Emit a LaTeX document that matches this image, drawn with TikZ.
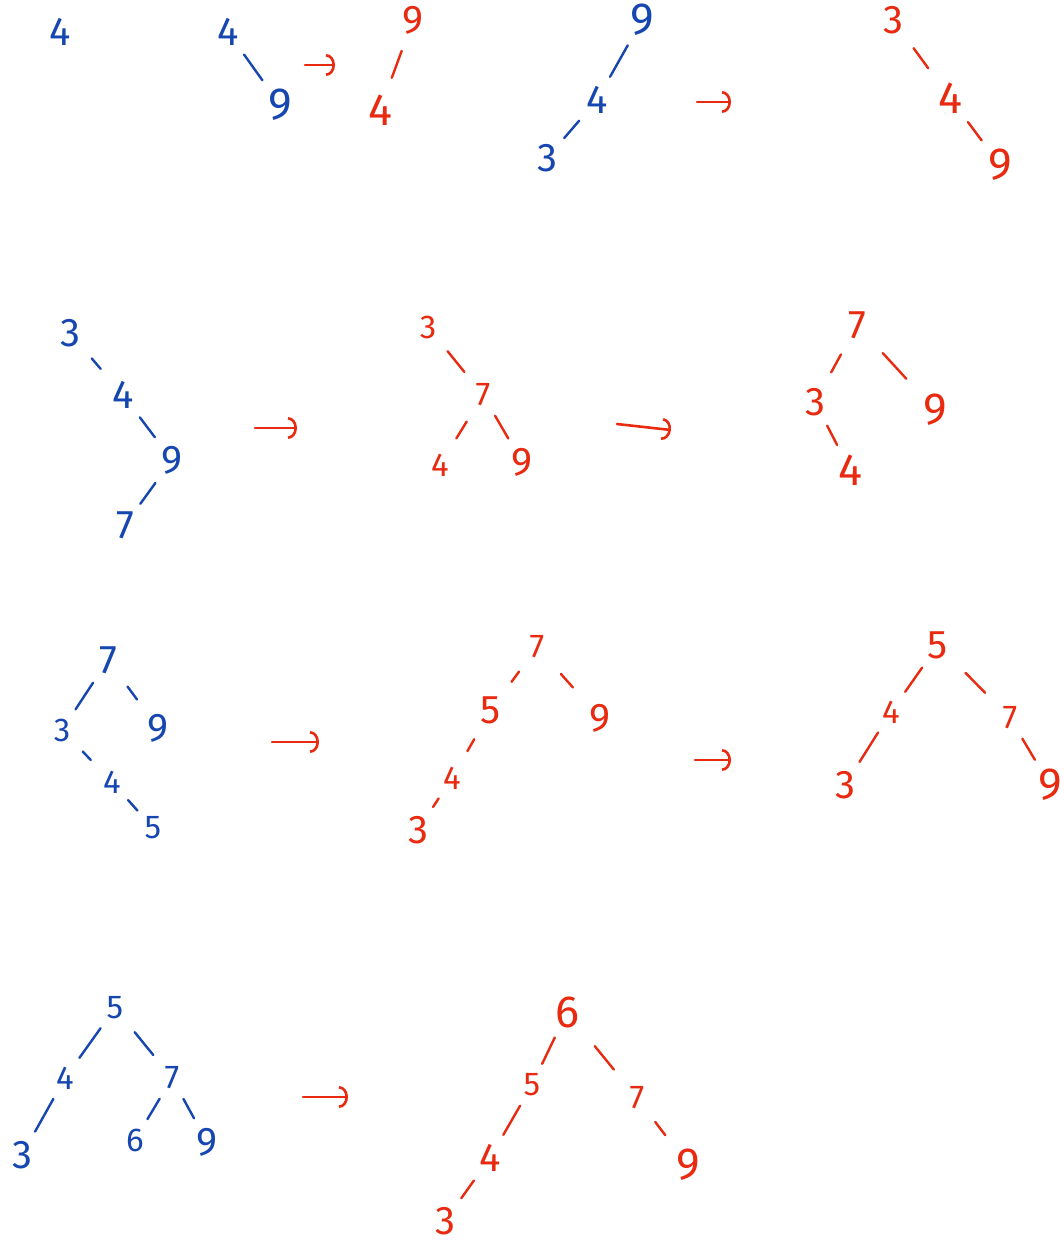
\documentclass[tikz,border=0pt]{standalone}
\usepackage{fontspec}
\setmainfont{Fira Sans}
\usetikzlibrary{arrows.meta}
\definecolor{SpBlue}{RGB}{22,70,175}
\definecolor{SpRed}{RGB}{232,42,16}
\tikzset{
  sp/key/.style={
    inner sep=0pt,
    outer sep=0pt,
    font=\fontsize{40}{44}\selectfont
  },
  sp/blue/.style={sp/key, text=SpBlue},
  sp/red/.style={sp/key, text=SpRed},
  sp/big/.style={font=\fontsize{45}{50}\selectfont},
  sp/small/.style={font=\fontsize{33}{37}\selectfont},
  sp/edge/.style={line width=2.4pt, line cap=round, shorten <=18pt, shorten >=18pt},
  sp/short/.style={shorten <=11pt, shorten >=11pt},
  sp/long/.style={shorten <=25pt, shorten >=25pt},
  sp/blueedge/.style={sp/edge, draw=SpBlue},
  sp/rededge/.style={sp/edge, draw=SpRed},
  sp/arrow/.style={-{Arc Barb[length=9pt,width=22pt,line width=2.6pt]}, line width=2.6pt, line cap=round, draw=SpRed}
}
\begin{document}
\begin{tikzpicture}[x=1pt,y=-1pt]
  \useasboundingbox (0,0) rectangle (1064,1243);
  % row 1
  \node[sp/blue] (a4) at (60,32) {4};
  \node[sp/blue] (b4) at (228,32) {4};
  \node[sp/blue,sp/big] (b9) at (280,105) {9};
  \draw[sp/blueedge,sp/short] (b4) -- (b9);
  \coordinate (ar1s) at (305,65);
  \coordinate (ar1e) at (335,65);
  \draw[sp/arrow] (ar1s) -- (ar1e);
  \node[sp/red] (c9) at (413,20) {9};
  \node[sp/red,sp/big] (c4) at (380,110) {4};
  \draw[sp/rededge] (c9) -- (c4);
  \node[sp/blue,sp/big] (d9) at (642,20) {9};
  \node[sp/blue] (d4) at (597,100) {4};
  \node[sp/blue] (d3) at (547,158) {3};
  \draw[sp/blueedge,sp/short] (d9) -- (d4);
  \draw[sp/blueedge,sp/short] (d4) -- (d3);
  \coordinate (ar2s) at (697,102);
  \coordinate (ar2e) at (731,102);
  \draw[sp/arrow] (ar2s) -- (ar2e);
  \node[sp/red] (e3) at (893,20) {3};
  \node[sp/red,sp/big] (e4) at (950,98) {4};
  \node[sp/red,sp/big] (e9) at (1000,165) {9};
  \draw[sp/rededge] (e3) -- (e4);
  \draw[sp/rededge,sp/short] (e4) -- (e9);
  % row 2
  \node[sp/blue] (f3) at (70,333) {3};
  \node[sp/blue] (f4) at (123,395) {4};
  \node[sp/blue] (f9) at (172,460) {9};
  \node[sp/blue] (f7) at (125,525) {7};
  \draw[sp/blueedge] (f3) -- (f4);
  \draw[sp/blueedge,sp/short] (f4) -- (f9);
  \draw[sp/blueedge,sp/short] (f9) -- (f7);
  \coordinate (ar3s) at (255,428);
  \coordinate (ar3e) at (297,428);
  \draw[sp/arrow] (ar3s) -- (ar3e);
  \node[sp/red,sp/small] (g3) at (428,327) {3};
  \node[sp/red,sp/small] (g7) at (483,395) {7};
  \node[sp/red,sp/small] (g4) at (440,465) {4};
  \node[sp/red] (g9) at (522,462) {9};
  \draw[sp/rededge] (g3) -- (g7);
  \draw[sp/rededge] (g7) -- (g4);
  \draw[sp/rededge,sp/short] (g7) -- (g9);
  \coordinate (ar4s) at (617,424);
  \coordinate (ar4e) at (671,430);
  \draw[sp/arrow] (ar4s) -- (ar4e);
  \node[sp/red] (h7) at (857,325) {7};
  \node[sp/red] (h3) at (815,402) {3};
  \node[sp/red,sp/big] (h9) at (935,410) {9};
  \node[sp/red,sp/big] (h4) at (850,470) {4};
  \draw[sp/rededge] (h7) -- (h3);
  \draw[sp/rededge,sp/long] (h7) -- (h9);
  \draw[sp/rededge,sp/short] (h3) -- (h4);
  % row 3
  \node[sp/blue] (i7) at (108,660) {7};
  \node[sp/blue,sp/small] (i3) at (62,730) {3};
  \node[sp/blue] (i9) at (158,728) {9};
  \node[sp/blue,sp/small] (i4) at (112,782) {4};
  \node[sp/blue,sp/small] (i5) at (153,828) {5};
  \draw[sp/blueedge,sp/short] (i7) -- (i3);
  \draw[sp/blueedge] (i7) -- (i9);
  \draw[sp/blueedge] (i3) -- (i4);
  \draw[sp/blueedge,sp/short] (i4) -- (i5);
  \coordinate (ar5s) at (272,742);
  \coordinate (ar5e) at (319,742);
  \draw[sp/arrow] (ar5s) -- (ar5e);
  \node[sp/red,sp/small] (j7) at (537,647) {7};
  \node[sp/red] (j5) at (491,710) {5};
  \node[sp/red] (j9) at (600,718) {9};
  \node[sp/red,sp/small] (j4) at (452,778) {4};
  \node[sp/red] (j3) at (418,830) {3};
  \draw[sp/rededge] (j7) -- (j5);
  \draw[sp/rededge,sp/long] (j7) -- (j9);
  \draw[sp/rededge] (j5) -- (j4);
  \draw[sp/rededge,sp/short] (j4) -- (j3);
  \coordinate (ar6s) at (695,760);
  \coordinate (ar6e) at (731,760);
  \draw[sp/arrow] (ar6s) -- (ar6e);
  \node[sp/red] (k5) at (938,645) {5};
  \node[sp/red,sp/small] (k4) at (891,712) {4};
  \node[sp/red,sp/small] (k7) at (1010,718) {7};
  \node[sp/red] (k3) at (845,785) {3};
  \node[sp/red,sp/big] (k9) at (1050,785) {9};
  \draw[sp/rededge,sp/short] (k5) -- (k4);
  \draw[sp/rededge,sp/long] (k5) -- (k7);
  \draw[sp/rededge,sp/short] (k4) -- (k3);
  \draw[sp/rededge,sp/short] (k7) -- (k9);
  % row 4
  \node[sp/blue,sp/small] (l5) at (115,1008) {5};
  \node[sp/blue,sp/small] (l4) at (65,1078) {4};
  \node[sp/blue,sp/small] (l7) at (172,1078) {7};
  \node[sp/blue] (l3) at (22,1155) {3};
  \node[sp/blue,sp/small] (l6) at (135,1140) {6};
  \node[sp/blue] (l9) at (207,1142) {9};
  \draw[sp/blueedge,sp/short] (l5) -- (l4);
  \draw[sp/blueedge] (l5) -- (l7);
  \draw[sp/blueedge,sp/short] (l4) -- (l3);
  \draw[sp/blueedge,sp/short] (l7) -- (l6);
  \draw[sp/blueedge,sp/short] (l7) -- (l9);
  \coordinate (ar7s) at (303,1097);
  \coordinate (ar7e) at (348,1097);
  \draw[sp/arrow] (ar7s) -- (ar7e);
  \node[sp/red,sp/big] (m6) at (567,1012) {6};
  \node[sp/red,sp/small] (m5) at (532,1085) {5};
  \node[sp/red,sp/small] (m7) at (637,1098) {7};
  \node[sp/red] (m4) at (490,1158) {4};
  \node[sp/red,sp/big] (m9) at (688,1165) {9};
  \node[sp/red] (m3) at (445,1221) {3};
  \draw[sp/rededge,sp/short] (m6) -- (m5);
  \draw[sp/rededge,sp/long] (m6) -- (m7);
  \draw[sp/rededge,sp/short] (m5) -- (m4);
  \draw[sp/rededge,sp/short] (m4) -- (m3);
  \draw[sp/rededge] (m7) -- (m9);
\end{tikzpicture}
\end{document}
